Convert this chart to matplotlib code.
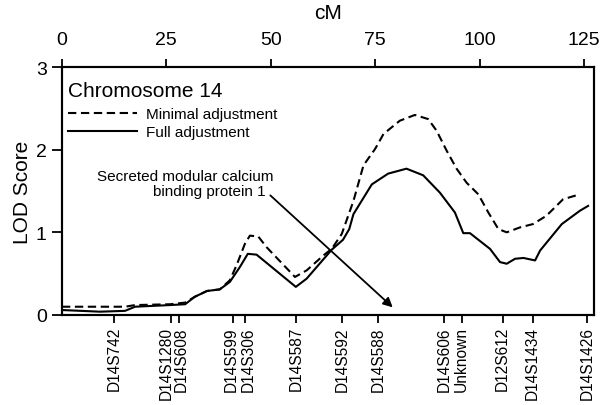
import matplotlib
matplotlib.use("Agg")
import matplotlib.pyplot as plt
from matplotlib.transforms import ScaledTranslation

plt.rcParams['font.family'] = ['Liberation Sans', 'DejaVu Sans']

# marker positions along chromosome 14 (cM)
marker_names = ["D14S742", "D14S1280", "D14S608", "D14S599", "D14S306", "D14S587",
                "D14S592", "D14S588", "D14S606", "Unknown", "D12S612", "D14S1434", "D14S1426"]
marker_cm = [12.5, 26.1, 28.0, 40.9, 43.9, 56.0, 67.0, 75.7, 91.5, 95.7, 105.5, 112.7, 125.8]
# small horizontal nudges (pixels) so crowded labels don't collide
label_nudge = [0, -5, 2, -2, 3, 0, 0, 0, 0, 0, 0, 0, 0]

# full adjustment (solid)
full_cm = [0.0, 9.1, 15.1, 17.5, 25.9, 29.5, 31.8, 34.7, 37.8, 40.2, 42.6, 44.5, 46.6,
           56.0, 58.6, 64.6, 67.3, 68.8, 69.8, 74.2, 78.1, 82.5, 86.5, 90.5, 94.1,
           96.1, 97.7, 102.5, 104.9, 106.5, 108.5, 110.5, 113.3, 114.5, 119.7, 124.0, 126.0]
full_lod = [0.06, 0.04, 0.05, 0.10, 0.12, 0.13, 0.22, 0.29, 0.31, 0.40, 0.58, 0.74, 0.73,
            0.34, 0.44, 0.79, 0.91, 1.04, 1.22, 1.58, 1.71, 1.77, 1.69, 1.48, 1.24,
            0.99, 0.99, 0.80, 0.64, 0.62, 0.68, 0.69, 0.66, 0.78, 1.10, 1.26, 1.32]

# minimal adjustment (dashed)
min_cm = [0.0, 15.1, 17.5, 25.9, 29.5, 31.8, 34.7, 37.8, 40.2, 41.8, 43.8, 45.0, 47.0,
          49.0, 55.8, 58.6, 62.6, 64.6, 67.0, 69.8, 72.2, 75.0, 77.0, 80.9, 84.5, 87.7,
          89.7, 92.1, 94.5, 96.9, 99.7, 102.1, 104.5, 106.5, 109.7, 112.8, 116.0, 120.0, 124.0]
min_lod = [0.10, 0.10, 0.12, 0.13, 0.15, 0.22, 0.29, 0.31, 0.42, 0.60, 0.86, 0.96, 0.95,
           0.82, 0.46, 0.54, 0.72, 0.80, 0.98, 1.38, 1.81, 2.01, 2.19, 2.35, 2.42, 2.37,
           2.23, 1.99, 1.77, 1.60, 1.46, 1.24, 1.04, 1.00, 1.06, 1.10, 1.20, 1.40, 1.46]

cm_ticks = [0, 25, 50, 75, 100, 125]
lod_ticks = [0, 1, 2, 3]

fig = plt.figure(figsize=(6.04, 4.06), dpi=100)
ax = fig.add_axes([0.1026, 0.2217, 0.8808, 0.6108])

ax.plot(min_cm, min_lod, color="black", lw=1.5, ls=(0, (4, 2.2)), label="Minimal adjustment")
ax.plot(full_cm, full_lod, color="black", lw=1.5, label="Full adjustment")

ax.set_xlim(0, 127.4)
ax.set_ylim(0, 3)

# bottom axis: markers
ax.set_xticks(marker_cm)
ax.set_xticklabels(marker_names, rotation=90, fontsize=11.2)
ax.tick_params(axis="x", direction="out", length=6, width=1.3, pad=2)
for lab, dx in zip(ax.get_xticklabels(), label_nudge):
    lab.set_transform(lab.get_transform() + ScaledTranslation(dx / 100, 0, fig.dpi_scale_trans))

ax.set_yticks(lod_ticks)
ax.tick_params(axis="y", direction="out", length=7, width=1.3, labelsize=14, pad=4)
ax.set_ylabel("LOD Score", fontsize=15, labelpad=3)

# top axis: cM
top = ax.twiny()
top.set_xlim(ax.get_xlim())
top.set_xticks(cm_ticks)
top.tick_params(direction="out", length=6, width=1.3, labelsize=14, pad=8)
top.set_xlabel("cM", fontsize=15, labelpad=9)
for s in list(top.spines.values()) + list(ax.spines.values()):
    s.set_linewidth(1.5)

ax.text(0.011, 0.907, "Chromosome 14", fontsize=15, ha="left", va="center",
        transform=ax.transAxes)
ax.legend(loc="upper left", bbox_to_anchor=(0.0, 0.862), frameon=False, fontsize=11,
          handlelength=4.5, handletextpad=0.6, labelspacing=0.25,
          borderpad=0, borderaxespad=0.4)

ax.text(29.6, 1.68, "Secreted modular calcium", fontsize=11, ha="center", va="center")
ax.text(35.3, 1.50, "binding protein 1", fontsize=11, ha="center", va="center")
ax.annotate("", xy=(79.7, 0.07), xytext=(49.4, 1.47),
            arrowprops=dict(arrowstyle="-|>", color="black", lw=1.3, mutation_scale=14))

fig.savefig("out.png", dpi=100)
